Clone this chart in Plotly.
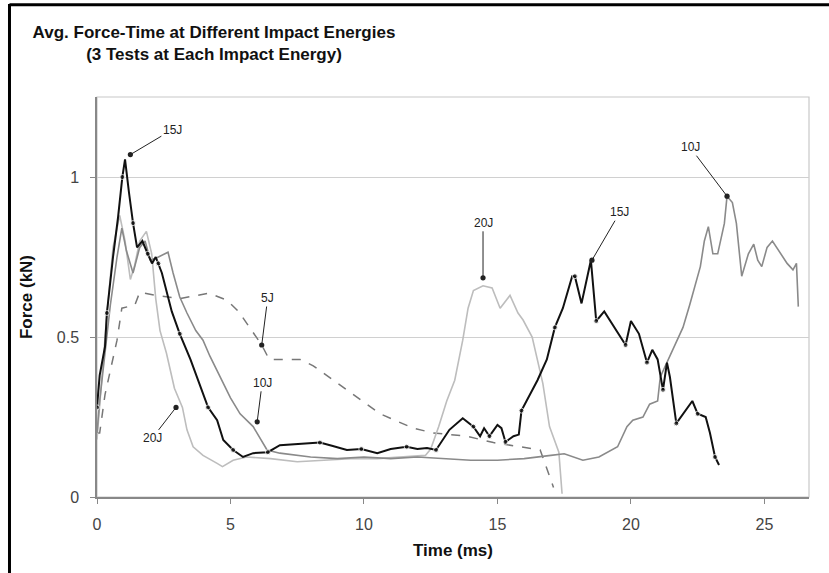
import plotly.graph_objects as go

# ---------------- data ----------------
t_15J = [0.0, 0.1, 0.3, 0.37, 0.6, 0.79, 0.95, 1.05, 1.2, 1.35, 1.5, 1.7, 1.9, 2.06, 2.2, 2.3, 2.43,
         2.8, 3.1, 3.5, 3.67, 4.16, 4.5, 4.73, 5.1, 5.47, 5.85, 6.4, 6.85, 7.5, 8.35, 8.8, 9.36, 9.9,
         10.5, 11.0, 11.6, 12.0, 12.36, 12.7, 13.2, 13.7, 14.1, 14.35, 14.5, 14.7, 15.0, 15.15, 15.3,
         15.6, 15.8, 15.9, 16.5, 16.85, 17.15, 17.45, 17.8, 17.9, 18.15, 18.5, 18.7, 19.0, 19.3, 19.8,
         20.0, 20.3, 20.6, 20.8, 21.0, 21.2, 21.35, 21.46, 21.7, 21.95, 22.3, 22.5, 22.8, 22.96, 23.15, 23.3]
f_15J = [0.28, 0.38, 0.47, 0.575, 0.75, 0.875, 1.0, 1.055, 0.95, 0.856, 0.78, 0.80, 0.76, 0.73, 0.75, 0.73, 0.70,
         0.58, 0.51, 0.43, 0.39, 0.28, 0.24, 0.178, 0.147, 0.125, 0.137, 0.14, 0.162, 0.165, 0.17, 0.16, 0.147, 0.15,
         0.137, 0.15, 0.157, 0.15, 0.153, 0.147, 0.21, 0.246, 0.22, 0.19, 0.215, 0.19, 0.225, 0.215, 0.172,
         0.19, 0.195, 0.27, 0.365, 0.43, 0.53, 0.59, 0.69, 0.69, 0.605, 0.74, 0.55, 0.58, 0.54, 0.475,
         0.55, 0.51, 0.42, 0.46, 0.43, 0.335, 0.42, 0.375, 0.23, 0.26, 0.30, 0.26, 0.25, 0.20, 0.125, 0.10]

t_10J = [0.0, 0.1, 0.3, 0.5, 0.75, 0.93, 1.1, 1.35, 1.6, 1.8, 2.0, 2.3, 2.66, 2.85, 3.1, 3.37, 3.7, 3.97,
         4.23, 4.6, 5.0, 5.36, 5.85, 6.37, 6.85, 8.0, 9.0, 10.0, 11.0, 12.0, 13.0, 14.0, 15.0, 16.0, 17.0,
         17.5, 18.2, 18.8, 19.5, 19.85, 20.07, 20.45, 20.7, 21.0, 21.1, 21.35, 21.6, 21.95, 22.2, 22.4, 22.6,
         22.75, 22.9, 23.07, 23.25, 23.5, 23.6, 23.8, 23.95, 24.15, 24.4, 24.6, 24.75, 24.9, 25.1, 25.3, 25.6,
         25.85, 26.07, 26.2, 26.27]
f_10J = [0.2, 0.3, 0.45, 0.6, 0.75, 0.84, 0.77, 0.70, 0.78, 0.80, 0.74, 0.75, 0.765, 0.70, 0.625, 0.575, 0.52, 0.49,
         0.44, 0.375, 0.31, 0.26, 0.22, 0.147, 0.137, 0.125, 0.12, 0.125, 0.12, 0.125, 0.12, 0.115, 0.115, 0.12, 0.13,
         0.135, 0.115, 0.125, 0.157, 0.22, 0.24, 0.25, 0.29, 0.30, 0.375, 0.42, 0.47, 0.53, 0.60, 0.66, 0.72,
         0.80, 0.845, 0.76, 0.76, 0.855, 0.94, 0.92, 0.855, 0.69, 0.76, 0.79, 0.74, 0.72, 0.78, 0.80, 0.76,
         0.73, 0.71, 0.73, 0.595]

t_20J = [0.0, 0.15, 0.35, 0.6, 0.85, 1.05, 1.25, 1.4, 1.6, 1.85, 2.05, 2.2, 2.36, 2.6, 2.9, 3.2, 3.37, 3.6,
         3.97, 4.5, 4.7, 5.1, 5.6, 6.5, 7.5, 8.5, 9.5, 10.5, 11.5, 12.3, 12.5, 12.8, 13.1, 13.4, 13.7, 13.9,
         14.1, 14.46, 14.8, 15.1, 15.47, 15.77, 15.96, 16.3, 16.7, 16.95, 17.3, 17.42]
f_20J = [0.18, 0.35, 0.55, 0.78, 0.88, 0.80, 0.68, 0.72, 0.80, 0.83, 0.76, 0.62, 0.52, 0.45, 0.34, 0.28, 0.21, 0.157,
         0.13, 0.105, 0.095, 0.115, 0.125, 0.12, 0.11, 0.115, 0.12, 0.12, 0.125, 0.13, 0.15, 0.22, 0.30, 0.365, 0.49, 0.59,
         0.645, 0.66, 0.653, 0.59, 0.63, 0.575, 0.553, 0.50, 0.355, 0.22, 0.14, 0.01]

t_5J = [0.0, 0.1, 0.3, 0.5, 0.75, 0.93, 1.42, 1.6, 2.2, 3.1, 4.2, 4.87, 5.3, 5.8, 6.17, 6.45, 7.6, 8.1,
        9.35, 10.6, 11.85, 12.6, 13.85, 14.85, 15.85, 16.6, 17.1]
f_5J = [0.2, 0.2, 0.32, 0.40, 0.49, 0.59, 0.60, 0.64, 0.63, 0.62, 0.637, 0.615, 0.58, 0.52, 0.475, 0.43, 0.43, 0.41,
        0.334, 0.26, 0.215, 0.20, 0.19, 0.17, 0.157, 0.147, 0.03]

# annotation labels and the points they point at
ann_text = ["15J", "5J", "10J", "20J", "20J", "15J", "10J"]
ann_t = [1.25, 6.17, 6.0, 2.96, 14.46, 18.54, 23.6]
ann_f = [1.07, 0.475, 0.235, 0.28, 0.685, 0.74, 0.94]

x_ticks = [0, 5, 10, 15, 20, 25]
y_ticks = [0, 0.5, 1]

# ---------------- figure ----------------
FONT = "Liberation Sans, Arial, sans-serif"
fig = go.Figure()

fig.add_trace(go.Scatter(x=t_5J, y=f_5J, mode="lines",
                         line=dict(color="#777777", width=1.5, dash="dash"), name="5J"))
fig.add_trace(go.Scatter(x=t_20J, y=f_20J, mode="lines",
                         line=dict(color="#bdbdbd", width=1.6), name="20J"))
fig.add_trace(go.Scatter(x=t_10J, y=f_10J, mode="lines",
                         line=dict(color="#8a8a8a", width=1.6), name="10J"))
sizes_15 = [5 if i % 3 == 0 else 0 for i in range(len(t_15J))]
fig.add_trace(go.Scatter(x=t_15J, y=f_15J, mode="lines+markers",
                         line=dict(color="#111111", width=2),
                         marker=dict(color="#111111", size=sizes_15), name="15J"))

# arrow offsets (pixels, label relative to point)
offsets = [(42, -25), (6, -47), (5, -39), (-24, 31), (0, -55), (28, -48), (-37, -49)]
for txt, x, y, (ax, ay) in zip(ann_text, ann_t, ann_f, offsets):
    fig.add_annotation(x=x, y=y, text=txt, showarrow=True, ax=ax, ay=ay,
                       arrowhead=6, arrowsize=1.3, arrowwidth=1, arrowcolor="#222222",
                       font=dict(family=FONT, size=12, color="#222222"))

# plot frame (light) and outer black border (left + top)
fig.add_shape(type="rect", xref="paper", yref="paper", x0=0, x1=1, y0=0, y1=1,
              line=dict(color="#c8c8c8", width=1.2), layer="below")
fig.add_shape(type="line", xref="paper", yref="paper", x0=-0.1229, x1=-0.1229, y0=-0.2, y1=1.2325,
              line=dict(color="black", width=3))
fig.add_shape(type="line", xref="paper", yref="paper", x0=-0.1229, x1=1.04, y0=1.2305, y1=1.2305,
              line=dict(color="black", width=3))

fig.update_layout(
    width=829, height=573,
    margin=dict(l=97, r=20, t=97, b=76),
    paper_bgcolor="white", plot_bgcolor="white",
    showlegend=False,
    font=dict(family=FONT, color="#333333"),
    title=dict(text="<b>Avg. Force-Time at Different Impact Energies<br>(3 Tests at Each Impact Energy)</b>",
               x=214 / 829, xanchor="center", xref="container",
               y=1 - 38 / 573, yanchor="middle", yref="container",
               font=dict(family=FONT, size=17, color="#111111")),
)
fig.update_xaxes(range=[0, 26.67], tickvals=x_ticks, ticks="outside", ticklen=5, tickcolor="#888888",
                 showgrid=False, zeroline=False, showline=True, linecolor="#888888", linewidth=1.5,
                 tickfont=dict(size=16, color="#444444"), ticklabelstandoff=7,
                 title=dict(text="<b>Time (ms)</b>", font=dict(size=17, color="#111111"), standoff=12))
fig.update_yaxes(range=[0, 1.25], tickvals=y_ticks, ticktext=["0", "0.5", "1"], ticks="outside", ticklen=5,
                 tickcolor="#888888", showgrid=True, gridcolor="#d0d0d0", gridwidth=1.2,
                 zeroline=False, showline=True, linecolor="#888888", linewidth=1.5,
                 tickfont=dict(size=16, color="#444444"), ticklabelstandoff=8,
                 title=dict(text="<b>Force (kN)</b>", font=dict(size=17, color="#111111"), standoff=20))

fig.write_html("out.html")
